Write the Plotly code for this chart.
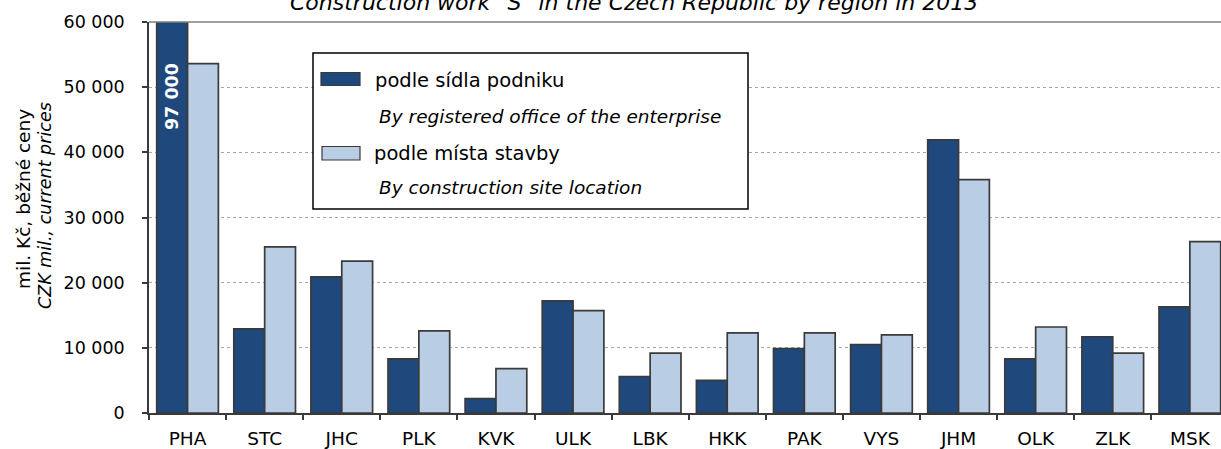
import plotly.graph_objects as go

# ---- data ----
regions = ["PHA", "STC", "JHC", "PLK", "KVK", "ULK", "LBK", "HKK", "PAK", "VYS", "JHM", "OLK", "ZLK", "MSK"]
by_office = [97000, 12900, 20900, 8300, 2200, 17200, 5600, 5000, 9900, 10500, 41900, 8300, 11700, 16300]
by_site = [53600, 25500, 23300, 12600, 6800, 15700, 9200, 12300, 12300, 12000, 35800, 13200, 9200, 26300]
name_office_cz = "podle sídla podniku"
name_office_en = "By registered office of the enterprise"
name_site_cz = "podle místa stavby"
name_site_en = "By construction site location"
title_text = "Construction work \"S\" in the Czech Republic by region in 2013"
ytitle_cz = "mil. Kč, běžné ceny"
ytitle_en = "CZK mil., current prices"
pha_label = "97 000"

DARK = "#1F497D"
LIGHT = "#B9CDE5"
EDGE = "#3A3A3A"
FONT = "DejaVu Sans, Liberation Sans, Arial, sans-serif"

W, H = 1221, 449
ML, MR, MT, MB = 149, 0, 22, 36
PW = W - ML - MR
PH = H - MT - MB
CAT_W = 77.1


def px2x(px):
    return (px - ML) / PW


def py2y(py):
    return (H - MB - py) / PH


fig = go.Figure()
fig.add_trace(go.Bar(x=regions, y=by_office, name=name_office_cz,
                     marker=dict(color=DARK, line=dict(color=EDGE, width=1.7)), showlegend=False))
fig.add_trace(go.Bar(x=regions, y=by_site, name=name_site_cz,
                     marker=dict(color=LIGHT, line=dict(color=EDGE, width=1.7)), showlegend=False))

fig.update_layout(
    width=W, height=H, autosize=False,
    margin=dict(l=ML, r=MR, t=MT, b=MB, pad=0, autoexpand=False),
    paper_bgcolor="white", plot_bgcolor="white",
    barmode="group", bargap=0.2, bargroupgap=0,
    separators=", ",
    font=dict(family=FONT, size=18, color="black"),
    showlegend=False,
)
fig.update_xaxes(
    type="category", range=[-0.5, -0.5 + PW / CAT_W], automargin=False,
    showline=True, linecolor=EDGE, linewidth=1.5,
    ticks="outside", tickson="boundaries", ticklen=5, tickcolor=EDGE, tickwidth=1.5,
    ticklabelstandoff=8,
    tickfont=dict(family=FONT, size=18.5, color="black"),
    showgrid=False, zeroline=False,
)
fig.update_yaxes(
    range=[0, 60000], dtick=10000, tickformat=",d", automargin=False,
    showline=True, linecolor=EDGE, linewidth=1.5,
    ticks="outside", ticklen=5, tickcolor=EDGE, tickwidth=1.5,
    ticklabelstandoff=14,
    tickfont=dict(family=FONT, size=17.5, color="black"),
    showgrid=True, gridcolor="#A6A6A6", gridwidth=1.3, griddash="dot",
    zeroline=False,
)

shapes = [
    dict(type="line", xref="paper", yref="paper", x0=0, x1=1, y0=1, y1=1, line=dict(color="#7F7F7F", width=1.5)),
    dict(type="rect", xref="paper", yref="paper", x0=px2x(313), x1=px2x(748), y0=py2y(209), y1=py2y(53),
         line=dict(color="black", width=1.5), fillcolor="white", layer="above"),
    dict(type="rect", xref="paper", yref="paper", x0=px2x(321), x1=px2x(360), y0=py2y(85.5), y1=py2y(72.5),
         line=dict(color=EDGE, width=1.2), fillcolor=DARK, layer="above"),
    dict(type="rect", xref="paper", yref="paper", x0=px2x(322), x1=px2x(360), y0=py2y(160), y1=py2y(146.5),
         line=dict(color=EDGE, width=1.2), fillcolor=LIGHT, layer="above"),
]
fig.update_layout(shapes=shapes)

ann = [
    dict(text=title_text, xref="paper", yref="paper", x=px2x(634), y=py2y(2.5), xanchor="center", yanchor="middle",
         showarrow=False, font=dict(family=FONT, size=22, style="italic", color="black")),
    dict(text=name_office_cz, xref="paper", yref="paper", x=px2x(373), y=py2y(80), xanchor="left", yanchor="middle",
         showarrow=False, font=dict(family=FONT, size=19.5)),
    dict(text=name_office_en, xref="paper", yref="paper", x=px2x(377), y=py2y(117), xanchor="left", yanchor="middle",
         showarrow=False, font=dict(family=FONT, size=18.5, style="italic")),
    dict(text=name_site_cz, xref="paper", yref="paper", x=px2x(372), y=py2y(153), xanchor="left", yanchor="middle",
         showarrow=False, font=dict(family=FONT, size=19.5)),
    dict(text=name_site_en, xref="paper", yref="paper", x=px2x(377), y=py2y(187), xanchor="left", yanchor="middle",
         showarrow=False, font=dict(family=FONT, size=18.5, style="italic")),
    dict(text=ytitle_cz, xref="paper", yref="paper", x=px2x(23), y=py2y(199),
         xanchor="center", yanchor="middle", textangle=-90, showarrow=False,
         font=dict(family=FONT, size=18.5)),
    dict(text=ytitle_en, xref="paper", yref="paper", x=px2x(45), y=py2y(206),
         xanchor="center", yanchor="middle", textangle=-90, showarrow=False,
         font=dict(family=FONT, size=17.5, style="italic")),
    dict(text="<b>" + pha_label + "</b>", xref="x", yref="y", x=-0.2, y=48500, textangle=-90, showarrow=False,
         xanchor="center", yanchor="middle", font=dict(family=FONT, size=17.5, color="white")),
]
fig.update_layout(annotations=ann)

fig.write_html("out.html", config={"displayModeBar": False},
               post_script="document.body.style.margin='0px';")
